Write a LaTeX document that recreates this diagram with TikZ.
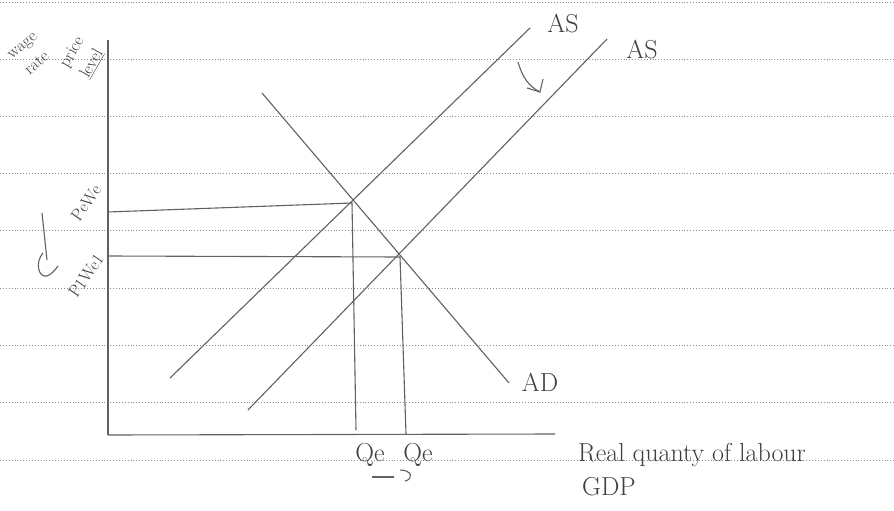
\documentclass[tikz,border=0pt]{standalone}
\begin{document}
\begin{tikzpicture}[x=1pt,y=-1pt,
  ink/.style={draw=black!62, line width=1.1pt},
  rule/.style={draw=black!45, dotted, line width=0.9pt},
  hand/.style={text=black!75, font=\fontsize{26}{28}\selectfont, inner sep=0pt},
  handsm/.style={text=black!75, font=\fontsize{17}{23}\selectfont, inner sep=0pt, align=center}]
\useasboundingbox (0,0) rectangle (894,511);
\fill[white] (0,0) rectangle (894,511);
% ruled paper lines
\foreach \yy in {2,59,116,173,230,288,345,402,460}
  \draw[rule] (0,\yy) -- (894,\yy);
% axes
\coordinate (O) at (108,435);
\coordinate (ytop) at (108,40);
\coordinate (xend) at (555,434);
\draw[ink] (O) -- (ytop);
\draw[ink] (O) -- (xend);
% curves
\coordinate (as1a) at (170,378); \coordinate (as1b) at (530,28);
\coordinate (as2a) at (248,410); \coordinate (as2b) at (607,39);
\coordinate (ada) at (262,93);   \coordinate (adb) at (509,383);
\draw[ink] (as1a) -- (as1b);
\draw[ink] (as2a) -- (as2b);
\draw[ink] (ada) -- (adb);
% equilibria
\coordinate (e1) at (352,203);
\coordinate (e2) at (400,257);
\coordinate (p1) at (108,212);
\coordinate (p2) at (108,256);
\coordinate (q1) at (356,430);
\coordinate (q2) at (406,434);
\draw[ink] (p1) -- (e1) -- (q1);
\draw[ink] (p2) -- (e2) -- (q2);
% curve labels
\node[hand] (las1) at (563,24) {AS};
\node[hand] (las2) at (642,50) {AS};
\node[hand] (lad) at (540,382) {AD};
% shift arrow
\draw[ink] (518,62) .. controls (522,76) and (528,86) .. (540,92);
\draw[ink] (527,88) -- (540,92) -- (543,79);
% axis labels
\node[handsm, rotate=40] (lwr) at (30,55) {wage\\rate};
\node[handsm, rotate=60] (lpl) at (82,58) {price\\\underline{level}};
\node[handsm, rotate=55] (lpe) at (86,203) {PeWe};
\node[handsm, rotate=55] (lp1) at (86,276) {P1We1};
% left arrow
\draw[ink] (42,213) -- (47,260);
\draw[ink] (43,253) .. controls (35,262) and (38,278) .. (47,276) .. controls (52,274) and (55,270) .. (58,266);
% x labels
\node[hand] (lq1) at (370,455) {Qe};
\node[hand] (lq2) at (418,455) {Qe};
\draw[ink] (372,477) -- (394,477);
\draw[ink] (400,470) .. controls (412,470) and (414,479) .. (405,481);
\node[hand, anchor=west] (lx) at (578,455) {Real quanty of labour};
\node[hand, anchor=west] (lg) at (582,487) {GDP};
\end{tikzpicture}
\end{document}
